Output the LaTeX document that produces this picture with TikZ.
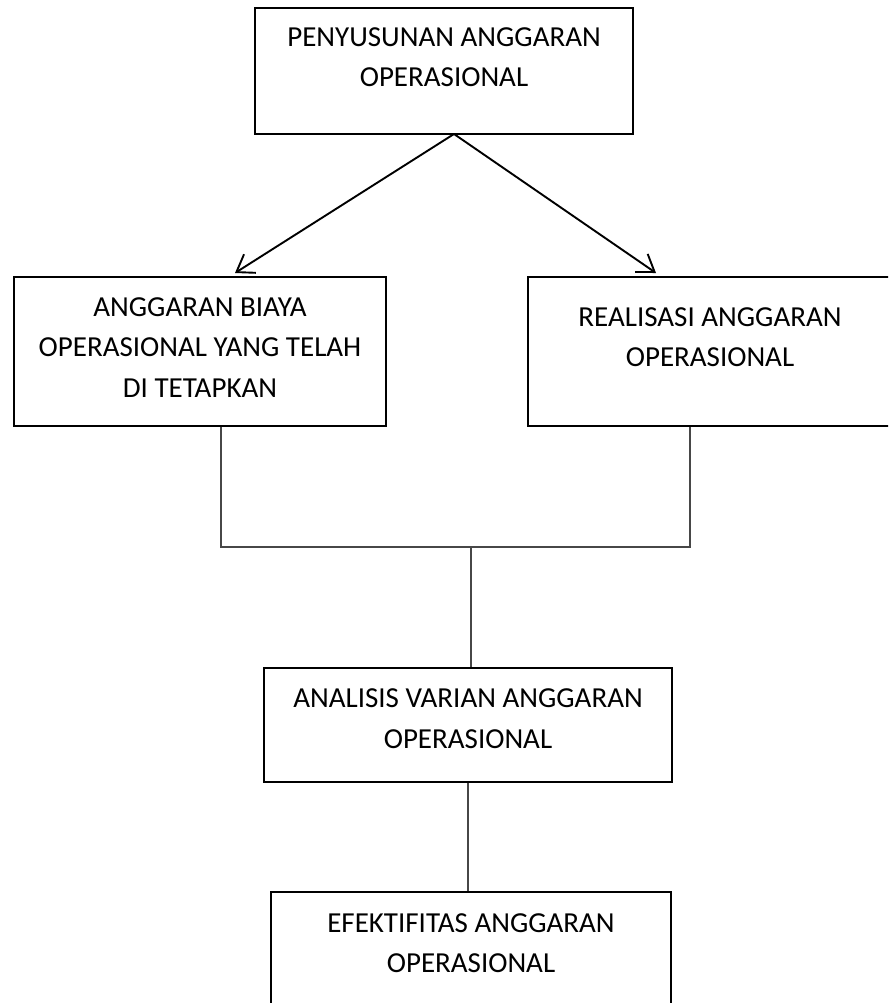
\documentclass[tikz,border=0pt]{standalone}
\usepackage{fontspec}
\setmainfont{Carlito}
\usetikzlibrary{arrows.meta}
\begin{document}
\begin{tikzpicture}[x=1pt,y=-1pt,
  box/.style={draw=black, line width=2.4pt, rectangle, inner sep=0pt},
  txt/.style={align=center, inner sep=0pt, font=\fontsize{29}{40.5}\selectfont},
  arr/.style={line width=1.9pt, -{Straight Barb[length=16pt,width=22pt,line width=1.9pt]}},
  conn/.style={line width=1.5pt, draw=black!72}]
\path[use as bounding box] (0,0) rectangle (888,1003);
\fill[white] (0,0) rectangle (888,1003);
\clip (0,0) rectangle (888,1003);
% boxes
\node[box, minimum width=378pt, minimum height=126pt] (top) at (444,71) {};
\node[box, minimum width=372pt, minimum height=149pt] (left) at (200,351.5) {};
\node[box, minimum width=364pt, minimum height=149pt] (right) at (710,351.5) {};
\node[box, minimum width=408pt, minimum height=114pt] (mid) at (468,725) {};
\node[box, minimum width=400pt, minimum height=148pt] (bot) at (471,966) {};
% texts (anchor base = baseline of the last line)
\node[txt, anchor=base] (topt) at (444,87) {PENYUSUNAN ANGGARAN\\OPERASIONAL};
\node[txt, anchor=base] (leftt) at (200,397) {ANGGARAN BIAYA\\OPERASIONAL YANG TELAH\\DI TETAPKAN};
\node[txt, anchor=base] (rightt) at (710,366.5) {REALISASI ANGGARAN\\OPERASIONAL};
\node[txt, anchor=base] (midt) at (468,748) {ANALISIS VARIAN ANGGARAN\\OPERASIONAL};
\node[txt, anchor=base] (bott) at (471,972.5) {EFEKTIFITAS ANGGARAN\\OPERASIONAL};
% arrows
\coordinate (src) at (454,134);
\coordinate (lt) at (235,273);
\coordinate (rt) at (656,273);
\draw[arr] (src) -- (lt);
\draw[arr] (src) -- (rt);
% connectors
\coordinate (jl) at (221,547);
\coordinate (jr) at (690,547);
\coordinate (jc) at (471,547);
\draw[conn] (left.south -| jl) -- (jl) -- (jr) -- (right.south -| jr);
\draw[conn] (jc) -- (mid.north -| jc);
\draw[conn] (mid.south) -- (mid.south |- bot.north);
\end{tikzpicture}
\end{document}
